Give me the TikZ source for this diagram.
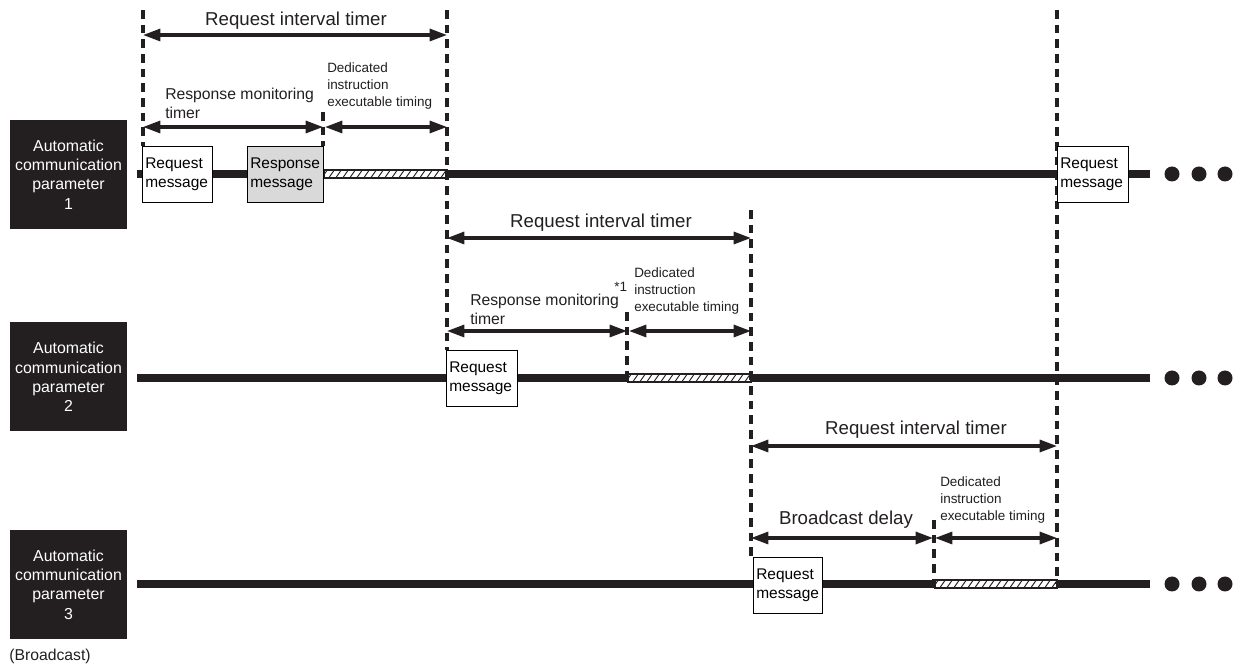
\documentclass[tikz,border=0pt]{standalone}
\usepackage{fontspec}
\setmainfont{Liberation Sans}
\usetikzlibrary{arrows.meta}
\definecolor{dark}{HTML}{231F20}
\definecolor{resp}{HTML}{D9D9D9}
\begin{document}
\begin{tikzpicture}[x=0.75pt,y=-0.75pt,
  param/.style={fill=dark, text=white, minimum width=87.75pt, minimum height=81.75pt,
    align=center, inner sep=0pt, font=\fontsize{11.9}{14.5}\selectfont},
  msg/.style={draw=black, line width=0.9pt, fill=white, anchor=north west,
    minimum height=42pt, inner xsep=2pt, inner ysep=0pt, align=left,
    text width=#1, font=\fontsize{11.6}{14}\selectfont},
  timeline/.style={line width=6pt, draw=dark},
  guide/.style={line width=2.3pt, draw=dark, dash pattern=on 6.5pt off 4.5pt},
  dim/.style={line width=2.3pt, draw=dark,
    {Triangle[length=13pt,width=9pt]}-{Triangle[length=13pt,width=9pt]}},
  big/.style={font=\fontsize{14}{17}\selectfont, inner sep=0pt, text=dark},
  mid/.style={font=\fontsize{11.8}{14.3}\selectfont, align=left, inner sep=0pt, anchor=north west, text=dark},
  small/.style={font=\fontsize{10.1}{13.1}\selectfont, align=left, inner sep=0pt, anchor=north west, text=dark},
  dot/.style={circle, fill=dark, minimum size=11.25pt, inner sep=0pt},
  hatchbar/.style={draw=dark, line width=0.8pt}
]
\useasboundingbox (0,0) rectangle (1233,666);

% ---------- parameter labels ----------
\node[param] (p1) at (68.5,174.5) {Automatic\\communication\\parameter\\1};
\node[param] (p2) at (68.5,377) {Automatic\\communication\\parameter\\2};
\node[param] (p3) at (68.5,584.5) {Automatic\\communication\\parameter\\3};
\node[font=\fontsize{11.8}{14}\selectfont, inner sep=0pt, text=dark] (bc) at (50,656) {(Broadcast)};

% ---------- timelines ----------
\coordinate (t1s) at (137,174); \coordinate (t1e) at (1150,174);
\coordinate (t2s) at (137,378); \coordinate (t2e) at (1150,378);
\coordinate (t3s) at (137,584); \coordinate (t3e) at (1150,584);
\draw[timeline] (t1s) -- (t1e);
\draw[timeline] (t2s) -- (t2e);
\draw[timeline] (t3s) -- (t3e);

% ---------- hatched bars ----------
\foreach \xa/\xb/\yc in {324/447/174, 628/751/378, 935/1057/584} {
  \fill[white] (\xa,\yc-4) rectangle (\xb,\yc+4);
  \begin{scope}
    \clip (\xa,\yc-4) rectangle (\xb,\yc+4);
    \foreach \h in {0,7,...,133} {
      \draw[dark, line width=0.7pt] (\xa+\h-3,\yc+5) -- (\xa+\h+4,\yc-5);
    }
  \end{scope}
  \draw[hatchbar] (\xa,\yc-4) rectangle (\xb,\yc+4);
}

% ---------- guide (dashed) lines ----------
\coordinate (g1t) at (143,10);   \coordinate (g1b) at (143,146);
\coordinate (g2t) at (323,112);  \coordinate (g2b) at (323,146);
\coordinate (g3t) at (447,10);   \coordinate (g3b) at (447,350);
\coordinate (g4t) at (627,312);  \coordinate (g4b) at (627,374);
\coordinate (g5t) at (751,210);  \coordinate (g5b) at (751,557);
\coordinate (g6t) at (934,520);  \coordinate (g6b) at (934,581);
\coordinate (g7t) at (1057,10);  \coordinate (g7b) at (1057,584);
\draw[guide] (g1t) -- (g1b);
\draw[guide] (g2t) -- (g2b);
\draw[guide] (g3t) -- (g3b);
\draw[guide] (g4t) -- (g4b);
\draw[guide] (g5t) -- (g5b);
\draw[guide] (g6t) -- (g6b);
\draw[guide] (g7t) -- (g7b);

% ---------- message boxes ----------
\node[msg=48.5pt] (m1a) at (142,146) {Request\\message};
\node[msg=53pt, fill=resp] (m1b) at (247,146) {Response\\message};
\node[msg=49.25pt] (m1c) at (1057,146) {Request\\message};
\node[msg=49.25pt] (m2a) at (446,350) {Request\\message};
\node[msg=47.75pt] (m3a) at (753,557) {Request\\message};

% ---------- continuation dots ----------
\foreach \yy/\r in {174/1, 378/2, 584/3} {
  \node[dot] (d\r a) at (1172,\yy) {};
  \node[dot] (d\r b) at (1199,\yy) {};
  \node[dot] (d\r c) at (1225,\yy) {};
}

% ---------- dimension arrows, row 1 ----------
\coordinate (a1l) at (143,35);  \coordinate (a1r) at (447,35);
\coordinate (a2l) at (143,127); \coordinate (a2r) at (323,127);
\coordinate (a3l) at (325,127); \coordinate (a3r) at (447,127);
\draw[dim] (a1l) -- (a1r);
\draw[dim] (a2l) -- (a2r);
\draw[dim] (a3l) -- (a3r);
\node[big, anchor=north] (l1) at (296,12) {Request interval timer};
\node[mid] (l2) at (165,88) {Response monitoring\\timer};
\node[small] (l3) at (327,62) {Dedicated\\instruction\\executable timing};

% ---------- row 2 ----------
\coordinate (b1l) at (447,238); \coordinate (b1r) at (751,238);
\coordinate (b2l) at (447,331); \coordinate (b2r) at (627,331);
\coordinate (b3l) at (629,331); \coordinate (b3r) at (751,331);
\draw[dim] (b1l) -- (b1r);
\draw[dim] (b2l) -- (b2r);
\draw[dim] (b3l) -- (b3r);
\node[big, anchor=north] (k1) at (601,214) {Request interval timer};
\node[mid] (k2) at (470,294) {Response monitoring\\timer};
\node[small] (k4) at (614,282) {*1};
\node[small] (k3) at (634,267) {Dedicated\\instruction\\executable timing};

% ---------- row 3 ----------
\coordinate (c1l) at (751,446); \coordinate (c1r) at (1057,446);
\coordinate (c2l) at (751,538); \coordinate (c2r) at (933,538);
\coordinate (c3l) at (935,538); \coordinate (c3r) at (1057,538);
\draw[dim] (c1l) -- (c1r);
\draw[dim] (c2l) -- (c2r);
\draw[dim] (c3l) -- (c3r);
\node[big, anchor=north] (j1) at (916,421) {Request interval timer};
\node[big, anchor=north] (j2) at (846,511) {Broadcast delay};
\node[small] (j3) at (940,476) {Dedicated\\instruction\\executable timing};
\end{tikzpicture}
\end{document}
